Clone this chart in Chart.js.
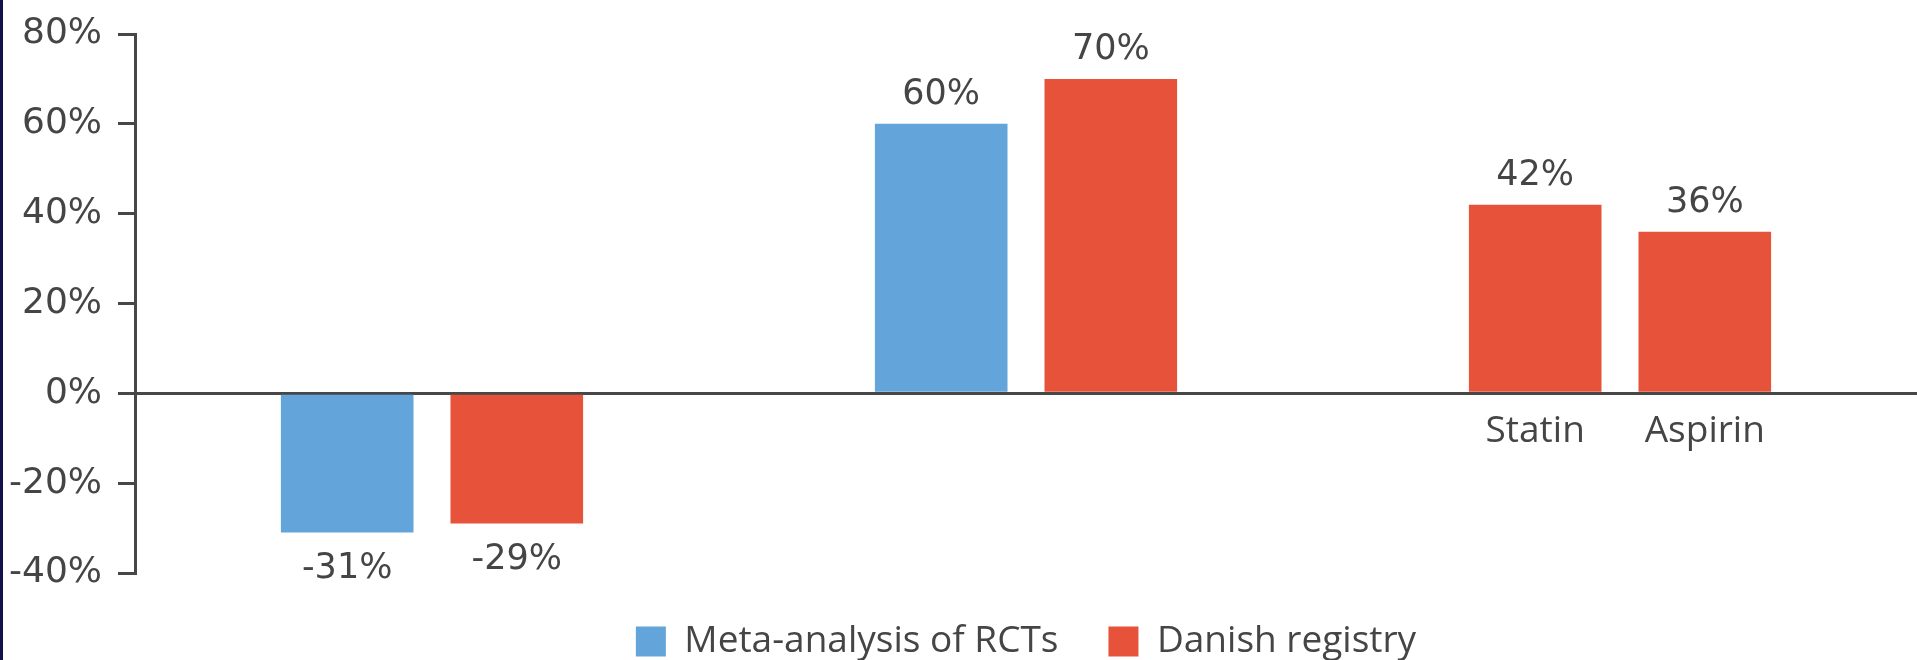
<!DOCTYPE html>
<html>
<head>
<meta charset="utf-8">
<script src="https://cdn.jsdelivr.net/npm/chart.js@4.4.1/dist/chart.umd.min.js"></script>
<style>
  html, body { margin: 0; padding: 0; background: #fff; }
  #wrap { position: relative; width: 1917px; height: 660px; }
  #edge { position: absolute; left: 0; top: 0; width: 3px; height: 660px; background: #12124e; }
</style>
</head>
<body>
<div id="wrap">
  <canvas id="chart" width="1917" height="660"></canvas>
  <div id="edge"></div>
</div>
<script>
const categories = ['Group 1', 'Group 2', 'Group 3'];
const seriesNames = ['Meta-analysis of RCTs', 'Danish registry'];
// first and second bar of each group
const firstBarValues = [-31, 60, 42];
const secondBarValues = [-29, 70, 36];
// names shown under the bars (only the last group has them)
const firstBarNames = ['', '', 'Statin'];
const secondBarNames = ['', '', 'Aspirin'];
const yTicks = [-40, -20, 0, 20, 40, 60, 80];

const BLUE = 'rgb(99, 165, 218)';
const RED = 'rgb(230, 83, 58)';
const INK = '#454545';
const AXIS = '#474747';
const TEXT_FONT = '"Open Sans", "Noto Sans", sans-serif';
const NUM_FONT = '"DejaVu Sans", sans-serif';

const barLabels = {
  id: 'barLabels',
  afterDatasetsDraw(chart) {
    const ctx = chart.ctx;
    const zero = chart.scales.y.getPixelForValue(0);
    ctx.save();
    ctx.fillStyle = INK;
    ctx.textAlign = 'center';
    ctx.textBaseline = 'alphabetic';
    chart.data.datasets.forEach((ds, i) => {
      const meta = chart.getDatasetMeta(i);
      meta.data.forEach((bar, j) => {
        const v = ds.data[j];
        if (v == null) return;
        ctx.font = '35px ' + NUM_FONT;
        if (v >= 0) {
          ctx.fillText(v + '%', bar.x, bar.y - 20);
        } else {
          ctx.fillText(v + '%', bar.x, bar.y + 45);
        }
        const name = ds.names[j];
        if (name) {
          ctx.font = '37px ' + TEXT_FONT;
          ctx.fillText(name, bar.x, zero + 49);
        }
      });
    });
    ctx.restore();
  }
};

new Chart(document.getElementById('chart'), {
  type: 'bar',
  data: {
    labels: categories,
    datasets: [
      {
        label: seriesNames[0],
        data: firstBarValues,
        names: firstBarNames,
        backgroundColor: c => (c.dataIndex === 2 ? RED : BLUE),
        categoryPercentage: 0.571,
        barPercentage: 0.782
      },
      {
        label: seriesNames[1],
        data: secondBarValues,
        names: secondBarNames,
        backgroundColor: RED,
        categoryPercentage: 0.571,
        barPercentage: 0.782
      }
    ]
  },
  options: {
    responsive: false,
    animation: false,
    layout: { padding: { top: 4, right: 0, bottom: -10, left: 0 } },
    plugins: {
      tooltip: { enabled: false },
      legend: {
        position: 'bottom',
        fullSize: false,
        labels: {
          color: INK,
          font: { family: TEXT_FONT, size: 37 },
          boxWidth: 30,
          boxHeight: 30,
          padding: 50,
          generateLabels: () => [
            { text: seriesNames[0], fillStyle: BLUE, strokeStyle: BLUE, lineWidth: 0, fontColor: INK },
            { text: seriesNames[1], fillStyle: RED, strokeStyle: RED, lineWidth: 0, fontColor: INK }
          ]
        }
      }
    },
    scales: {
      x: { display: false },
      y: {
        min: -40,
        max: 80,
        afterBuildTicks: s => { s.ticks = yTicks.map(v => ({ value: v })); },
        afterFit: s => { s.width = 135; },
        border: { display: true, color: AXIS, width: 3 },
        grid: {
          color: c => (c.tick && c.tick.value === 0 ? AXIS : 'rgba(0,0,0,0)'),
          lineWidth: 3,
          tickColor: AXIS,
          tickLength: 17,
          drawOnChartArea: true
        },
        ticks: {
          color: INK,
          padding: 16,
          font: { family: NUM_FONT, size: 36, lineHeight: 1 },
          callback: v => v + '%'
        }
      }
    }
  },
  plugins: [barLabels]
});
</script>
</body>
</html>
